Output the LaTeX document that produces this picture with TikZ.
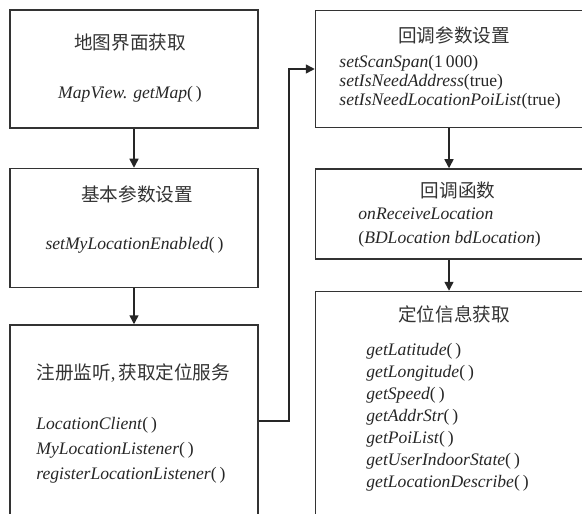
\documentclass[tikz,border=0pt]{standalone}
\usepackage{fontspec}
\setmainfont{Liberation Serif}
\newfontfamily\cjk{Noto Sans CJK SC}
\usetikzlibrary{arrows.meta,positioning}

\tikzset{
  box/.style={draw=black!80, line width=0.75pt, minimum width=124pt, inner sep=0pt},
  title/.style={font=\cjk\fontsize{9.3}{11}\selectfont, text=black!80, inner sep=0pt},
  call/.style={font=\fontsize{8.8}{#1}\selectfont, text=black!85, inner sep=0pt, align=left},
  call/.default=11pt,
  flow/.style={-{Triangle[length=4.5pt,width=4.5pt]}, line width=0.75pt, draw=black!85},
}

\begin{document}
\begin{tikzpicture}[x=0.5pt, y=-0.5pt, node distance=19.5pt]
  \useasboundingbox (0,0) rectangle (582,513);
  \clip (0,0) rectangle (582,513);

  % left column
  \node[box, minimum height=59pt]                        (map)  at (134,69) {};
  \node[box, minimum height=59.5pt, below=of map]        (base) {};
  \node[box, minimum height=104pt, below=18pt of base]   (reg)  {};

  % right column
  \node[box, minimum width=133.5pt, minimum height=58.5pt, right=28pt of map] (cb)   {};
  \node[box, minimum width=133.5pt, minimum height=45pt, below=20pt of cb]    (cbf)  {};
  \node[box, minimum width=133.5pt, minimum height=121pt, below=15.5pt of cbf] (info) {};

  % texts
  \node[title]  (mapT)  at (130,42.5)  {地图界面获取};
  \node[call]   (mapC)  at (130,94.5)  {\textit{MapView. getMap}(\,)};
  \node[title]  (baseT) at (137,194.5) {基本参数设置};
  \node[call]   (baseC) at (134.5,245.5) {\textit{setMyLocationEnabled}(\,)};
  \node[title, anchor=west] (regT) at (36,373) {注册监听{\rmfamily,\,}获取定位服务};
  \node[call=12.5pt, anchor=west] (regC) at (36,450)
    {\textit{LocationClient}(\,)\\ \textit{MyLocationListener}(\,)\\ \textit{registerLocationListener}(\,)};

  \node[title]  (cbT)   at (454,35.5) {回调参数设置};
  \node[call=9.5pt, anchor=west] (cbC) at (339,82)
    {\textit{setScanSpan}(1\,000)\\ \textit{setIsNeedAddress}(true)\\ \textit{setIsNeedLocationPoiList}(true)};
  \node[title]  (cbfT)  at (458,190) {回调函数};
  \node[call=12pt, anchor=west] (cbfC) at (358,228)
    {\textit{onReceiveLocation}\\ (\textit{BDLocation bdLocation})};
  \node[title]  (infoT) at (454,314) {定位信息获取};
  \node[call=11pt, anchor=west] (infoC) at (366,417)
    {\textit{getLatitude}(\,)\\ \textit{getLongitude}(\,)\\ \textit{getSpeed}(\,)\\ \textit{getAddrStr}(\,)\\
     \textit{getPoiList}(\,)\\ \textit{getUserIndoorState}(\,)\\ \textit{getLocationDescribe}(\,)};

  % connectors
  \path (map) edge[flow] (base)
        (base) edge[flow] (reg)
        (cb) edge[flow] (cbf)
        (cbf) edge[flow] (info);
  \draw[flow] ([yshift=4pt]reg.east) -- ++(15pt,0) |- (cb.west);
\end{tikzpicture}
\end{document}
